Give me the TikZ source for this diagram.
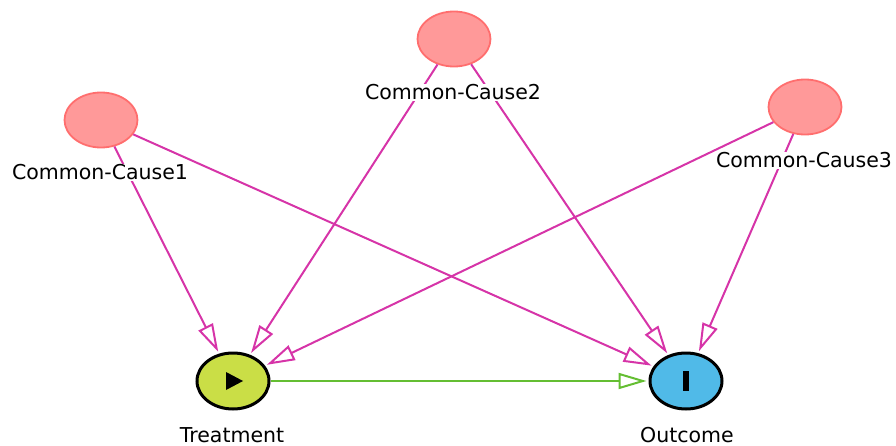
\documentclass[tikz,border=0pt]{standalone}
\usepackage{fontspec}
\setsansfont{DejaVu Sans}
\usepackage{tikz}
\usetikzlibrary{shapes.geometric, arrows.meta}
\definecolor{causefill}{RGB}{255,153,153}
\definecolor{causedraw}{RGB}{255,110,110}
\definecolor{treatfill}{RGB}{202,222,70}
\definecolor{outfill}{RGB}{80,186,232}
\definecolor{edgemag}{RGB}{214,52,168}
\definecolor{edgegreen}{RGB}{100,190,50}
\tikzstyle{cause} = [ellipse, minimum width=73pt, minimum height=55pt, inner sep=0pt, fill=causefill, draw=causedraw, line width=1.8pt]
\tikzstyle{varnode} = [ellipse, minimum width=72pt, minimum height=56pt, inner sep=0pt, draw=black, line width=3pt]
\tikzstyle{namelabel} = [anchor=base, fill=white, inner sep=1pt, font=\sffamily\fontsize{20.5}{24}\selectfont]
\tikzstyle{arrow} = [line width=2pt, edgemag, shorten >=2pt, -{Triangle[open, length=28pt, width=16pt]}]
\tikzstyle{effect} = [line width=2pt, edgegreen, shorten >=2pt, -{Triangle[open, length=28pt, width=16pt]}]

\begin{document}
\begin{tikzpicture}[x=1pt, y=-1pt]
		\useasboundingbox (0,0) rectangle (896,446);
		
		% Nodes
		\node (cc1) [cause] at (101,120) {};
		\node (cc2) [cause] at (454,39) {};
		\node (cc3) [cause] at (805,107) {};
		\node (treat) [varnode, fill=treatfill] at (233,381) {};
		\node (out) [varnode, fill=outfill] at (686,381) {};
		
		% Arrows
		\draw [arrow] (cc1) -- (treat);
		\draw [arrow] (cc1) -- (out);
		\draw [arrow] (cc2) -- (treat);
		\draw [arrow] (cc2) -- (out);
		\draw [arrow] (cc3) -- (treat);
		\draw [arrow] (cc3) -- (out);
		\draw [effect] (treat) -- (out);
		
		% Symbols
		\fill (226,372) -- (243,381) -- (226,390) -- cycle;
		\fill (683,371) rectangle (689,391);
		
		% Labels
		\node (l1) [namelabel] at (100,180) {Common-Cause1};
		\node (l2) [namelabel] at (453,100) {Common-Cause2};
		\node (l3) [namelabel] at (804,168) {Common-Cause3};
		\node (lt) [namelabel] at (232,442) {Treatment};
		\node (lo) [namelabel] at (687,442) {Outcome};
		
	\end{tikzpicture}
\end{document}
